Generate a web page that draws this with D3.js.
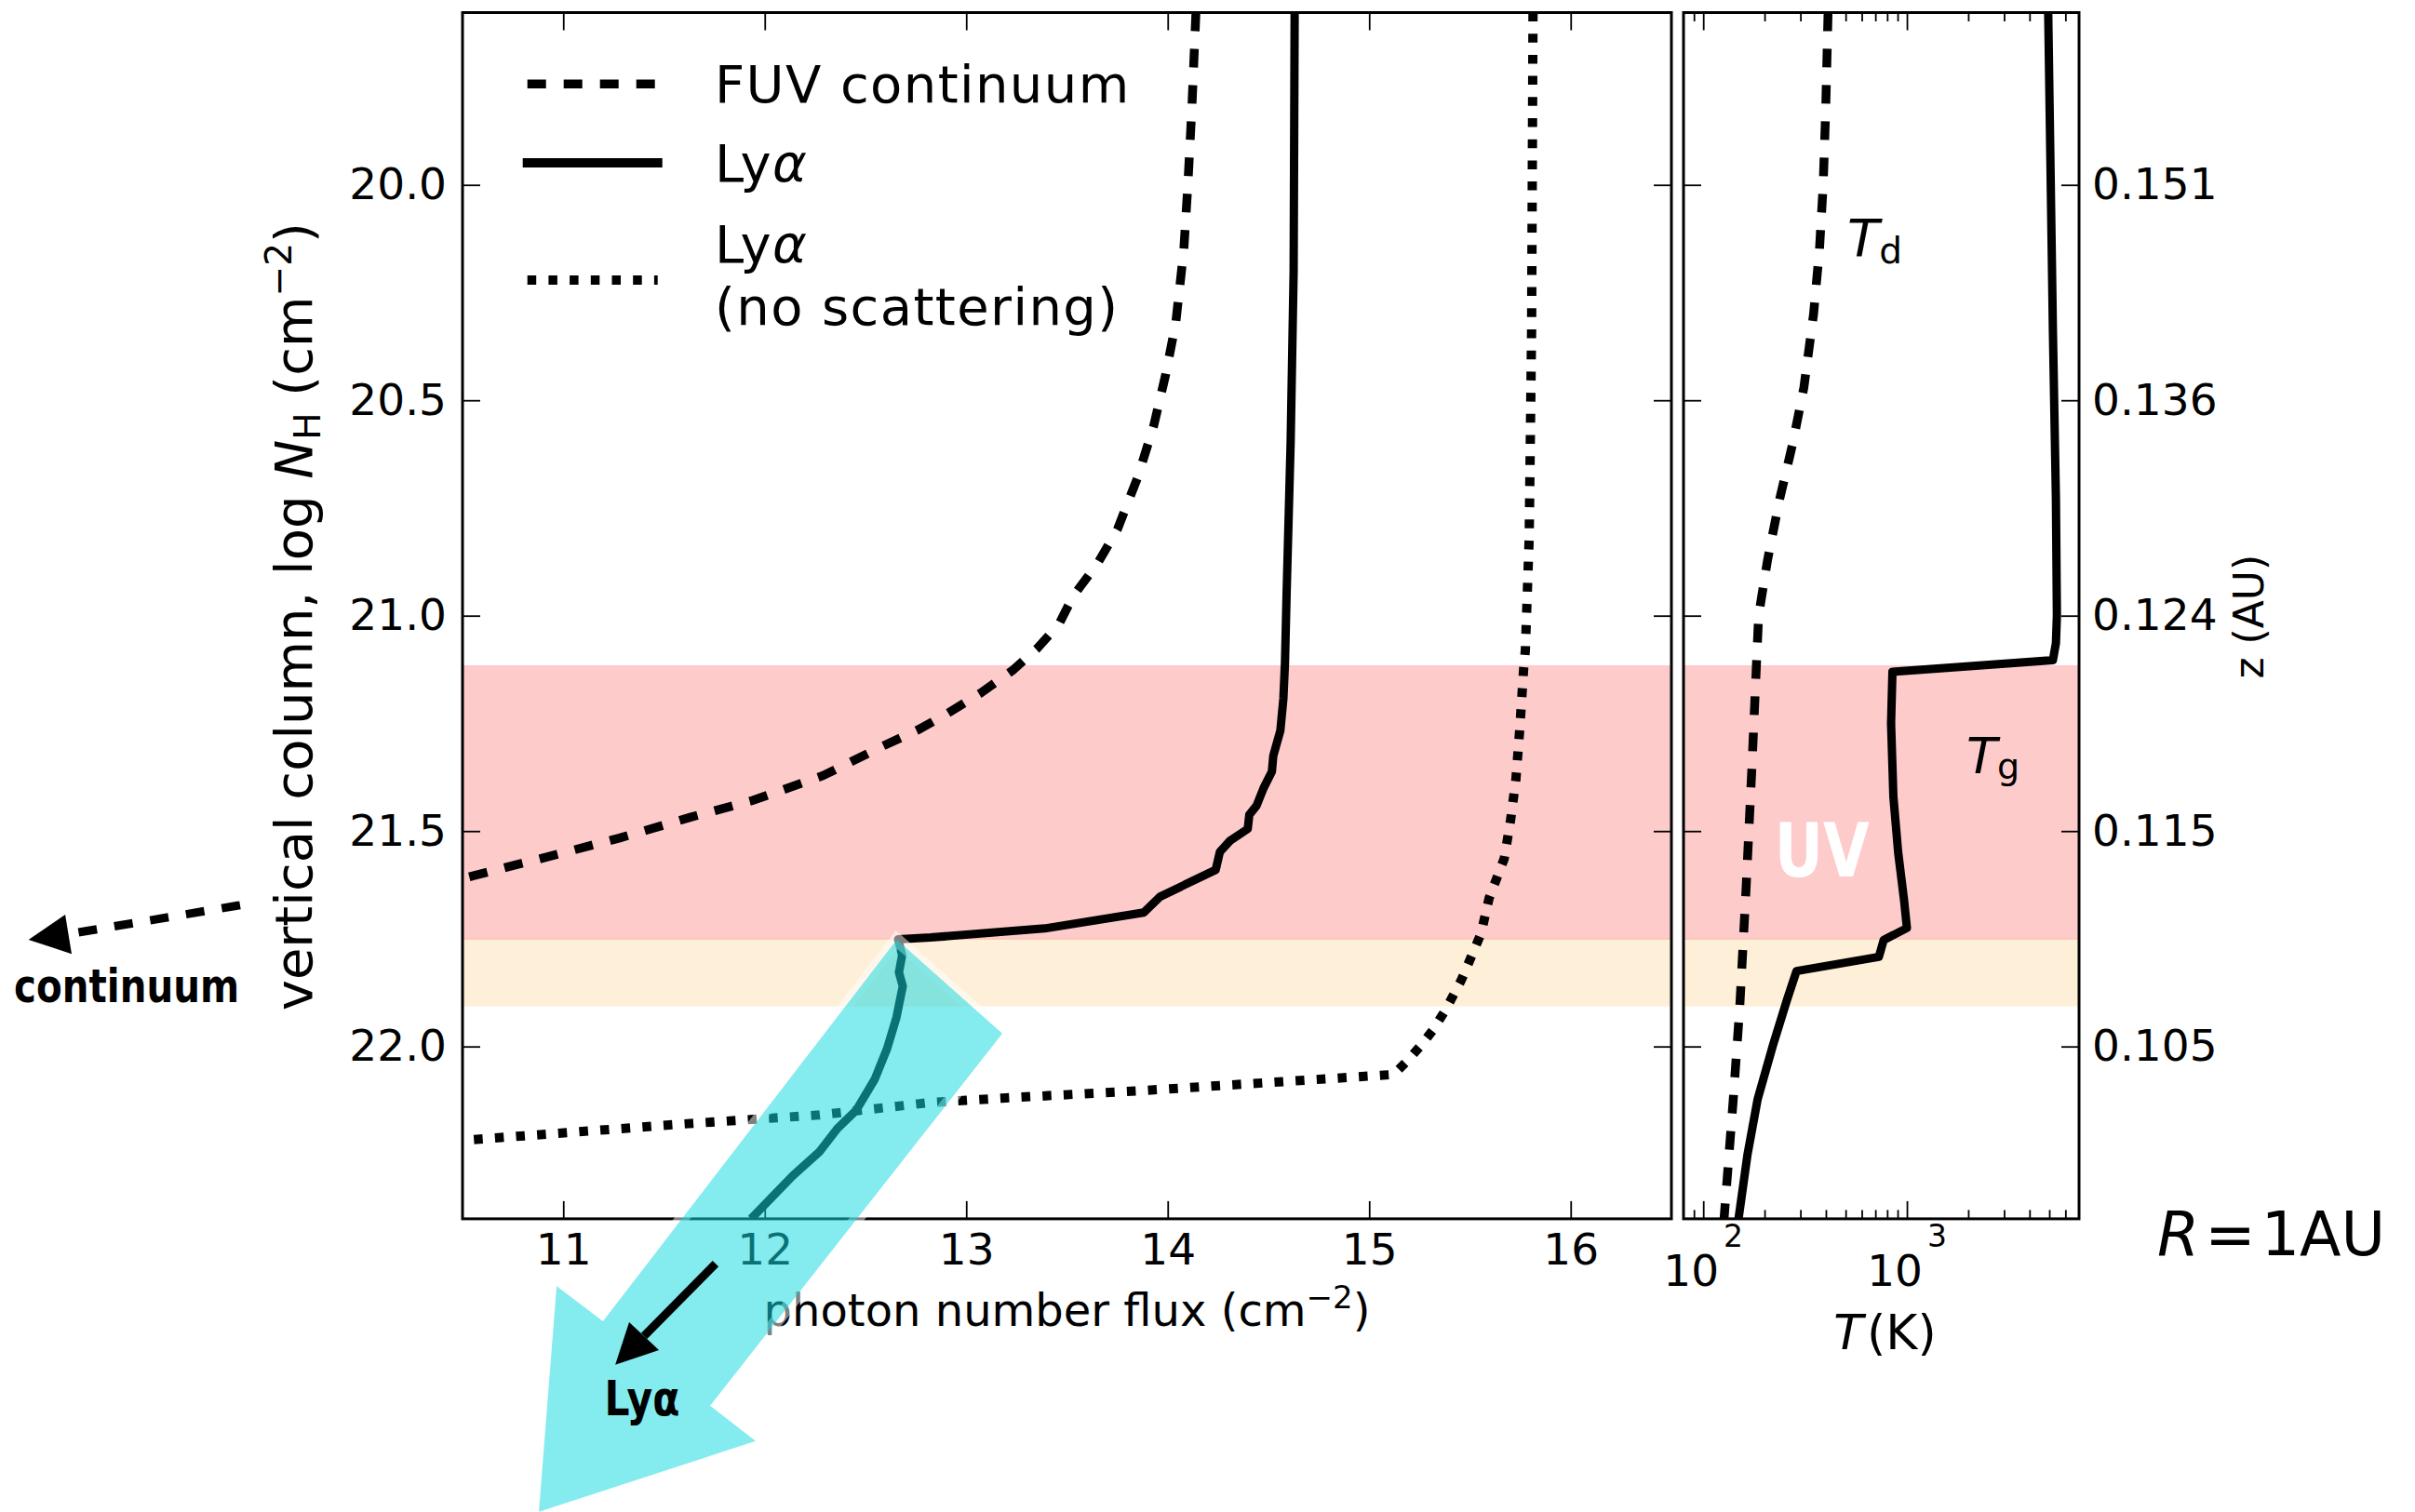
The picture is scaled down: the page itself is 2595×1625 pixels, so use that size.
<!DOCTYPE html>
<html>
<head>
<meta charset="utf-8">
<script src="https://cdn.jsdelivr.net/npm/d3@7"></script>
<style>
  body { margin: 0; background: #fff; }
  text { font-family: "DejaVu Sans", sans-serif; }
</style>
</head>
<body>
<div id="chart"></div>
<script>
// ---- data ----
// left panel: [photon number flux (log cm^-2), log N_H]
var fuvContinuum = [[14.14, 19.60], [14.12, 19.82], [14.10, 20.00], [14.08, 20.15], [14.04, 20.32],
  [13.99, 20.44], [13.93, 20.56], [13.85, 20.68], [13.75, 20.80], [13.65, 20.88], [13.53, 20.955],
  [13.46, 21.02], [13.35, 21.077], [13.23, 21.127], [13.07, 21.18], [12.91, 21.226], [12.76, 21.265],
  [12.58, 21.304], [12.29, 21.371], [11.94, 21.429], [11.63, 21.468], [11.28, 21.516], [10.97, 21.554],
  [10.50, 21.61]];

var lyaScatter = [[14.63, 19.60], [14.625, 20.20], [14.61, 20.60], [14.59, 20.95], [14.582, 21.11],
  [14.574, 21.193], [14.559, 21.267], [14.524, 21.325], [14.517, 21.362], [14.476, 21.40], [14.441, 21.441],
  [14.405, 21.462], [14.397, 21.495], [14.308, 21.523], [14.259, 21.548], [14.238, 21.59], [13.963, 21.652],
  [13.881, 21.689], [13.389, 21.726], [12.823, 21.747], [12.662, 21.751], [12.682, 21.788], [12.666, 21.828],
  [12.685, 21.86], [12.654, 21.932], [12.608, 22.004], [12.546, 22.076], [12.454, 22.148], [12.361, 22.19],
  [12.27, 22.245], [12.139, 22.30], [11.932, 22.40]];

var lyaNoScatter = [[15.813, 19.60], [15.806, 20.34], [15.794, 20.82], [15.775, 21.08], [15.767, 21.12],
  [15.747, 21.265], [15.728, 21.38], [15.701, 21.477], [15.67, 21.564], [15.595, 21.656], [15.555, 21.738],
  [15.51, 21.788], [15.457, 21.846], [15.378, 21.916], [15.316, 21.962], [15.254, 21.999], [15.192, 22.032],
  [15.121, 22.065], [14.591, 22.081], [13.884, 22.102], [13.177, 22.12], [12.823, 22.13], [12.269, 22.159],
  [11.59, 22.18], [10.50, 22.218]];

// right panel: [T (K), log N_H]
var dustTemp = [[410, 19.60], [399, 19.83], [388, 20.00], [372, 20.15], [348, 20.30], [312, 20.47],
  [275, 20.60], [237, 20.73], [207, 20.87], [187, 21.00], [181, 21.15], [173, 21.36], [162, 21.64],
  [151, 21.91], [140, 22.13], [126.5, 22.40]];

var gasTemp = [[4940, 19.60], [5070, 19.96], [5210, 20.34], [5390, 20.73], [5450, 21.00], [5390, 21.064],
  [5210, 21.103], [849, 21.13], [836, 21.25], [858, 21.42], [906, 21.55], [968, 21.66], [1000, 21.725],
  [769, 21.753], [728, 21.792], [287, 21.825], [258, 21.891], [219, 22.00], [185, 22.122], [165, 22.25],
  [149, 22.40]];

var uvBand = [21.115, 21.75];
var warmBand = [21.75, 21.907];

var columnTicks = [20.0, 20.5, 21.0, 21.5, 22.0];
var heightLabels = ["0.151", "0.136", "0.124", "0.115", "0.105"];
var fluxTicks = [11, 12, 13, 14, 15, 16];
var tempMajor = [100, 1000];
var tempMinor = [90, 200, 300, 400, 500, 600, 700, 800, 900, 2000, 3000, 4000, 5000, 6000];

// annotation shapes, in data units of the left panel
var lyaArrowShape = [[12.655, 21.752], [13.179, 21.970], [11.729, 22.834], [11.955, 22.916],
  [10.879, 23.080], [10.967, 22.556], [11.197, 22.638]];

// ---- layout ----
var svgWidth = 2595;
var svgHeight = 1625;
var fluxPanel = { left: 497, right: 1796 };
var tempPanel = { left: 1809, right: 2234 };
var panelTop = 13.5;
var panelBottom = 1309.9;
var tickFont = 47;

var svg = d3.select("#chart")
  .append("svg")
  .attr("width", svgWidth)
  .attr("height", svgHeight);

var xFlux = d3.scaleLinear().domain([10.5, 16.5]).range([fluxPanel.left, fluxPanel.right]);
var yCol = d3.scaleLinear().domain([19.6, 22.4]).range([panelTop, panelBottom]);
var xTemp = d3.scaleLog().domain([80, 7000]).range([tempPanel.left, tempPanel.right]);

var defs = svg.append("defs");
defs.append("clipPath").attr("id", "clipFlux").append("rect")
  .attr("x", fluxPanel.left).attr("y", panelTop)
  .attr("width", fluxPanel.right - fluxPanel.left).attr("height", panelBottom - panelTop);
defs.append("clipPath").attr("id", "clipTemp").append("rect")
  .attr("x", tempPanel.left).attr("y", panelTop)
  .attr("width", tempPanel.right - tempPanel.left).attr("height", panelBottom - panelTop);

// shaded layers
[fluxPanel, tempPanel].forEach(function(p) {
  svg.append("rect")
    .attr("x", p.left).attr("width", p.right - p.left)
    .attr("y", yCol(uvBand[0])).attr("height", yCol(uvBand[1]) - yCol(uvBand[0]))
    .attr("fill", "#fecbcb");
  svg.append("rect")
    .attr("x", p.left).attr("width", p.right - p.left)
    .attr("y", yCol(warmBand[0])).attr("height", yCol(warmBand[1]) - yCol(warmBand[0]))
    .attr("fill", "#feefd8");
  svg.append("line")
    .attr("x1", p.left).attr("x2", p.right)
    .attr("y1", yCol(uvBand[1])).attr("y2", yCol(uvBand[1]))
    .attr("stroke", "#fcbfb2").attr("stroke-width", 1.5);
});

// curves
var fluxLine = d3.line().x(d => xFlux(d[0])).y(d => yCol(d[1]));
var tempLine = d3.line().x(d => xTemp(d[0])).y(d => yCol(d[1]));

var fluxCurves = svg.append("g").attr("clip-path", "url(#clipFlux)");
fluxCurves.append("path").datum(fuvContinuum).attr("d", fluxLine)
  .attr("fill", "none").attr("stroke", "#000").attr("stroke-width", 9.5)
  .attr("stroke-dasharray", "20,19");
fluxCurves.append("path").datum(lyaScatter).attr("d", fluxLine)
  .attr("fill", "none").attr("stroke", "#000").attr("stroke-width", 9)
  .attr("stroke-linejoin", "round");
fluxCurves.append("path").datum(lyaNoScatter).attr("d", fluxLine)
  .attr("fill", "none").attr("stroke", "#000").attr("stroke-width", 10)
  .attr("stroke-dasharray", "9.5,13.2");

var tempCurves = svg.append("g").attr("clip-path", "url(#clipTemp)");
tempCurves.append("path").datum(dustTemp).attr("d", tempLine)
  .attr("fill", "none").attr("stroke", "#000").attr("stroke-width", 9.5)
  .attr("stroke-dasharray", "20,19");
tempCurves.append("path").datum(gasTemp).attr("d", tempLine)
  .attr("fill", "none").attr("stroke", "#000").attr("stroke-width", 9)
  .attr("stroke-linejoin", "round");

// axes
function styleAxis(g) {
  g.select(".domain").remove();
  g.attr("font-size", tickFont).attr("font-family", "DejaVu Sans");
  g.selectAll(".tick line").attr("stroke-width", 1.8);
  g.selectAll(".tick text").attr("fill", "#000");
}

svg.append("g").attr("transform", `translate(0, ${panelBottom})`)
  .call(d3.axisBottom(xFlux).tickValues(fluxTicks).tickSize(-19).tickPadding(16).tickFormat(d3.format("d")))
  .call(styleAxis);
svg.append("g").attr("transform", `translate(0, ${panelTop})`)
  .call(d3.axisTop(xFlux).tickValues(fluxTicks).tickSize(-19).tickFormat(""))
  .call(styleAxis);
svg.append("g").attr("transform", `translate(${fluxPanel.left}, 0)`)
  .call(d3.axisLeft(yCol).tickValues(columnTicks).tickSize(-19).tickPadding(17).tickFormat(d3.format(".1f")))
  .call(styleAxis);
svg.append("g").attr("transform", `translate(${fluxPanel.right}, 0)`)
  .call(d3.axisRight(yCol).tickValues(columnTicks).tickSize(-19).tickFormat(""))
  .call(styleAxis);

[[panelBottom, d3.axisBottom], [panelTop, d3.axisTop]].forEach(function(a) {
  svg.append("g").attr("transform", `translate(0, ${a[0]})`)
    .call(a[1](xTemp).tickValues(tempMajor).tickSize(-19).tickFormat(""))
    .call(styleAxis);
  svg.append("g").attr("transform", `translate(0, ${a[0]})`)
    .call(a[1](xTemp).tickValues(tempMinor).tickSize(-9.5).tickFormat(""))
    .call(styleAxis);
});
svg.append("g").attr("transform", `translate(${tempPanel.left}, 0)`)
  .call(d3.axisLeft(yCol).tickValues(columnTicks).tickSize(-19).tickFormat(""))
  .call(styleAxis);
svg.append("g").attr("transform", `translate(${tempPanel.right}, 0)`)
  .call(d3.axisRight(yCol).tickValues(columnTicks).tickSize(-19).tickPadding(14)
    .tickFormat((d, i) => heightLabels[i]))
  .call(styleAxis);

// 10^n labels on the log axis
tempMajor.forEach(function(v) {
  var t = svg.append("text")
    .attr("x", xTemp(v)).attr("y", panelBottom + 72)
    .attr("text-anchor", "middle").attr("font-size", tickFont);
  t.append("tspan").text("10");
  t.append("tspan").attr("font-size", 33).attr("dx", 5).attr("dy", -42).text(Math.round(Math.log10(v)));
});

// frames
[fluxPanel, tempPanel].forEach(function(p) {
  svg.append("rect")
    .attr("x", p.left).attr("y", panelTop)
    .attr("width", p.right - p.left).attr("height", panelBottom - panelTop)
    .attr("fill", "none").attr("stroke", "#000").attr("stroke-width", 3);
});

// axis labels
var yLabel = svg.append("text")
  .attr("transform", `translate(335, ${(panelTop + panelBottom) / 2 + 1}) rotate(-90)`)
  .attr("text-anchor", "middle").attr("font-size", 56);
yLabel.append("tspan").text("vertical column, log ");
yLabel.append("tspan").attr("font-style", "italic").text("N");
yLabel.append("tspan").attr("font-size", 39).attr("dy", 9).text("H");
yLabel.append("tspan").attr("dy", -9).text(" (cm");
yLabel.append("tspan").attr("font-size", 39).attr("dy", -22).text("\u22122");
yLabel.append("tspan").attr("dy", 22).text(")");

var xLabel = svg.append("text")
  .attr("x", (fluxPanel.left + fluxPanel.right) / 2)
  .attr("y", panelBottom + 115)
  .attr("text-anchor", "middle").attr("font-size", 48);
xLabel.append("tspan").text("photon number flux (cm");
xLabel.append("tspan").attr("font-size", 34).attr("dy", -19).text("\u22122");
xLabel.append("tspan").attr("dy", 19).text(")");

var tLabel = svg.append("text")
  .attr("x", (tempPanel.left + tempPanel.right) / 2 + 4)
  .attr("y", panelBottom + 140)
  .attr("text-anchor", "middle").attr("font-size", 52);
tLabel.append("tspan").attr("font-style", "italic").text("T");
tLabel.append("tspan").attr("dx", 4).text("(K)");

svg.append("text")
  .attr("transform", `translate(${tempPanel.right + 198}, ${(panelTop + panelBottom) / 2 + 1}) rotate(-90)`)
  .attr("text-anchor", "middle").attr("font-size", 44)
  .text("z (AU)");

// curve labels in the temperature panel
var td = svg.append("text").attr("x", xTemp(510)).attr("y", yCol(20.165)).attr("font-size", 56);
td.append("tspan").attr("font-style", "italic").text("T");
td.append("tspan").attr("font-size", 39).attr("dy", 8).text("d");
var tg = svg.append("text").attr("x", xTemp(1960)).attr("y", yCol(21.366)).attr("font-size", 54);
tg.append("tspan").attr("font-style", "italic").text("T");
tg.append("tspan").attr("font-size", 38).attr("dy", 6).text("g");

svg.append("text")
  .attr("x", xTemp(224)).attr("y", yCol(21.605))
  .attr("font-family", "Liberation Sans").attr("font-weight", "bold")
  .attr("font-size", 80).attr("fill", "#fff")
  .attr("textLength", 102).attr("lengthAdjust", "spacingAndGlyphs")
  .text("UV");

var rLabel = svg.append("text")
  .attr("x", tempPanel.right + 84).attr("y", panelBottom + 39)
  .attr("font-size", 65);
rLabel.append("tspan").attr("font-style", "italic").text("R");
rLabel.append("tspan").attr("dx", 6).text("=");
rLabel.append("tspan").attr("dx", 6).text("1AU");

// legend
var legendItems = [
  { lines: ["FUV continuum"], dash: "20,19", width: 9.5, cap: "butt", y: 90.3 },
  { lines: ["Ly\u03b1"], dash: null, width: 10, cap: "square", y: 175 },
  { lines: ["Ly\u03b1", "(no scattering)"], dash: "9.5,13.2", width: 10, cap: "butt", y: 301 }
];
var legendBaselines = [[110], [195], [282, 349]];
legendItems.forEach(function(item, i) {
  svg.append("line")
    .attr("x1", 566.7).attr("x2", 706.7).attr("y1", item.y).attr("y2", item.y)
    .attr("stroke", "#000").attr("stroke-width", item.width)
    .attr("stroke-linecap", item.cap)
    .attr("stroke-dasharray", item.dash);
  item.lines.forEach(function(line, j) {
    var t = svg.append("text").attr("x", 768).attr("y", legendBaselines[i][j]).attr("font-size", 56)
      .attr("letter-spacing", 1.4);
    if (line.indexOf("\u03b1") >= 0) {
      t.append("tspan").text("Ly");
      t.append("tspan").attr("font-style", "italic").text("\u03b1");
    } else {
      t.text(line);
    }
  });
});

// big translucent Ly-alpha arrow on top of everything
var shapeLine = d3.line().x(d => xFlux(d[0])).y(d => yCol(d[1])).curve(d3.curveLinearClosed);
svg.append("path").datum(lyaArrowShape).attr("d", shapeLine)
  .attr("fill", "none").attr("stroke", "#fff").attr("stroke-opacity", 0.5)
  .attr("stroke-width", 14).attr("stroke-linejoin", "miter");
svg.append("path").datum(lyaArrowShape).attr("d", shapeLine)
  .attr("fill", "rgb(19, 216, 224)").attr("fill-opacity", 0.52);

// small black arrow and label
svg.append("line")
  .attr("x1", xFlux(11.756)).attr("y1", yCol(22.504))
  .attr("x2", xFlux(11.401)).attr("y2", yCol(22.672))
  .attr("stroke", "#000").attr("stroke-width", 9);
svg.append("path")
  .datum([[11.258, 22.739], [11.327, 22.640], [11.475, 22.705]])
  .attr("d", shapeLine).attr("fill", "#000");
svg.append("text")
  .attr("x", xFlux(11.204)).attr("y", yCol(22.856))
  .attr("font-family", "Liberation Sans").attr("font-weight", "bold").attr("font-size", 51)
  .attr("textLength", 81).attr("lengthAdjust", "spacingAndGlyphs")
  .text("Ly\u03b1");

// continuum escape arrow
svg.append("line")
  .attr("x1", xFlux(9.396)).attr("y1", yCol(21.672))
  .attr("x2", xFlux(8.544)).attr("y2", yCol(21.739))
  .attr("stroke", "#000").attr("stroke-width", 9)
  .attr("stroke-dasharray", "20,19");
svg.append("path")
  .datum([[8.346, 21.752], [8.528, 21.694], [8.56, 21.785]])
  .attr("d", shapeLine).attr("fill", "#000");
svg.append("text")
  .attr("x", xFlux(8.274)).attr("y", yCol(21.897))
  .attr("font-family", "Liberation Sans").attr("font-weight", "bold").attr("font-size", 50)
  .attr("textLength", 242).attr("lengthAdjust", "spacingAndGlyphs")
  .text("continuum");
</script>
</body>
</html>
